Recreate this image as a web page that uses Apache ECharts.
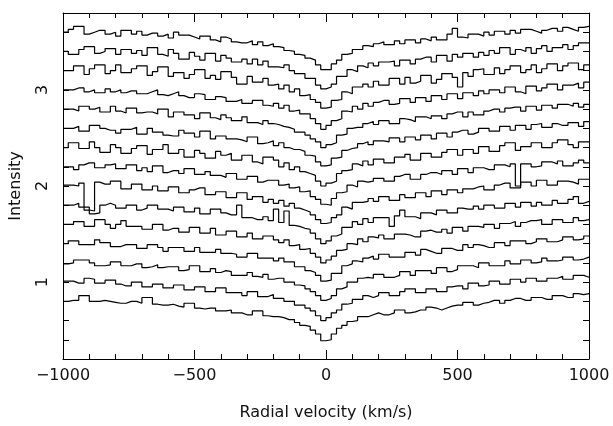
<!DOCTYPE html>
<html>
<head>
<meta charset="utf-8">
<script src="https://cdn.jsdelivr.net/npm/echarts@6/dist/echarts.min.js"></script>
<style>
    html, body { margin: 0; padding: 0; background: #fff; }
    #chart { width: 613px; height: 426px; }
</style>
</head>
<body>
<div id="chart"></div>
<script>
// left edge of each velocity bin (km/s), bins are 20 km/s wide
var binEdges = [
    -1000,-980,-960,-940,-920,-900,-880,-860,-840,-820,
    -800,-780,-760,-740,-720,-700,-680,-660,-640,-620,
    -600,-580,-560,-540,-520,-500,-480,-460,-440,-420,
    -400,-380,-360,-340,-320,-300,-280,-260,-240,-220,
    -200,-180,-160,-140,-120,-100,-80,-60,-40,-20,
    0,20,40,60,80,100,120,140,160,180,
    200,220,240,260,280,300,320,340,360,380,
    400,420,440,460,480,500,520,540,560,580,
    600,620,640,660,680,700,720,740,760,780,
    800,820,840,860,880,900,920,940,960,980
];
var binEnd = 1000;

// normalised intensity in percent, bottom spectrum first
var spec00 = [
    100,101,101,106,106,100,100,101,100,99,
    98,98,100,100,98,104,104,97,96,96,
    97,95,94,98,98,93,92,93,93,90,
    90,91,88,88,86,86,90,90,85,84,
    84,83,81,81,78,75,74,70,66,59,
    60,66,72,75,79,80,84,84,86,88,
    86,86,88,91,91,88,89,91,91,94,
    93,91,93,95,96,96,99,99,96,98,
    99,101,101,98,101,103,103,101,101,104,
    104,102,102,106,106,104,104,108,107,108
];
var spec01 = [
    101,101,99,99,104,103,99,99,102,102,
    98,96,96,100,100,95,95,98,98,94,
    94,97,97,92,92,95,95,90,90,94,
    94,89,89,89,86,90,90,85,85,87,
    83,83,80,80,76,76,73,70,65,60,
    63,68,71,77,78,82,82,86,84,86,
    89,89,86,86,90,93,93,89,89,93,
    93,90,90,95,96,96,93,99,99,96,
    97,101,101,98,98,103,103,100,104,104,
    101,101,104,104,106,103,103,107,107,105
];
var spec02 = [
    99,100,103,103,103,100,97,97,98,101,
    101,97,97,99,99,95,96,98,95,96,
    96,96,92,93,97,97,91,91,94,90,
    92,91,87,87,87,90,86,85,88,83,
    84,84,80,80,77,76,73,70,66,61,
    63,66,73,75,80,80,84,85,84,88,
    88,85,85,87,91,91,87,92,92,92,
    89,95,95,91,93,97,97,97,95,100,
    100,97,97,97,102,99,99,103,103,100,
    101,105,102,102,103,106,106,103,104,106
];
var spec03 = [
    100,103,103,99,99,99,104,101,101,97,
    97,99,99,99,95,95,99,99,96,92,
    96,96,96,92,92,96,91,91,91,94,
    90,90,89,86,86,90,90,85,85,85,
    82,85,81,81,76,76,72,70,67,61,
    62,69,69,77,79,82,81,85,87,84,
    89,89,86,86,86,91,91,88,94,92,
    90,90,95,95,93,93,99,96,99,98,
    96,96,101,101,98,103,103,103,100,102,
    105,105,102,102,104,107,107,104,105,108
];
var spec04 = [
    100,100,103,103,98,98,105,105,100,96,
    100,104,98,98,98,95,95,100,100,94,
    96,96,92,92,97,97,91,91,96,89,
    89,93,93,87,87,91,85,85,88,88,
    84,81,84,78,79,74,75,70,66,60,
    63,67,73,74,80,79,85,82,87,86,
    89,85,85,90,90,89,87,87,93,94,
    92,92,95,91,97,97,93,98,98,97,
    100,100,96,101,101,103,98,102,104,104,
    105,100,100,105,105,102,102,107,104,105
];
var spec05 = [
    100,100,102,98,98,91,92,100,102,100,
    97,97,100,100,95,97,100,100,96,96,
    94,98,98,93,93,97,91,91,96,96,
    92,90,90,100,87,87,85,85,88,84,
    96,82,94,79,78,76,75,71,65,60,
    63,68,70,77,77,83,80,86,82,87,
    87,87,78,89,95,88,88,86,92,92,
    90,95,95,92,92,97,96,96,99,96,
    100,100,97,97,102,102,98,103,103,99,
    103,100,100,105,102,102,106,109,102,104
];
var spec06 = [
    101,101,100,103,75,74,104,102,102,105,
    105,97,97,102,102,96,96,100,95,95,
    99,99,93,93,96,98,98,91,91,94,
    94,88,88,93,93,86,89,89,83,86,
    82,85,79,82,77,75,73,70,65,61,
    62,67,70,78,76,83,83,84,87,84,
    89,89,85,85,91,88,88,93,93,89,
    95,95,91,96,96,93,97,97,99,100,
    96,96,101,103,103,98,98,104,104,100,
    106,106,101,101,105,105,104,102,107,107
];
var spec07 = [
    100,100,97,102,104,104,99,99,102,103,
    98,98,102,102,96,99,95,101,101,94,
    96,96,93,98,98,92,92,95,91,91,
    89,93,93,87,87,90,90,84,86,86,
    86,81,82,78,79,74,75,69,66,61,
    60,67,73,74,81,79,85,84,85,88,
    88,85,85,90,92,92,87,87,92,94,
    94,92,96,96,92,98,98,94,99,99,
    97,97,102,102,100,103,80,103,103,100,
    101,105,105,103,106,101,101,104,107,104
];
var spec08 = [
    100,105,105,99,99,106,100,95,95,103,
    100,94,94,99,102,102,93,98,98,103,
    94,94,98,90,90,97,94,89,89,96,
    92,94,87,87,92,92,85,83,90,90,
    87,80,84,77,80,75,73,71,65,60,
    63,65,73,76,77,83,81,86,82,88,
    88,84,84,90,90,93,87,87,94,94,
    90,90,95,98,98,92,98,98,94,101,
    101,96,96,102,105,105,97,101,101,105,
    105,100,100,105,108,108,103,100,106,106
];
var spec09 = [
    100,100,102,97,97,103,103,100,98,98,
    95,99,99,101,94,94,100,96,96,93,
    92,92,98,95,95,91,97,97,89,92,
    92,89,89,88,86,91,91,84,85,87,
    82,85,80,78,78,76,72,71,65,61,
    62,69,70,77,79,80,84,86,83,87,
    87,86,90,90,86,91,91,88,93,93,
    89,95,95,91,96,98,98,94,96,100,
    100,97,97,102,102,98,103,103,99,104,
    105,101,101,105,103,103,106,106,102,107
];
var spec10 = [
    100,100,98,103,103,100,102,97,97,103,
    98,96,101,101,96,97,97,95,100,100,
    92,97,97,94,94,90,96,96,91,89,
    94,91,88,88,92,86,86,84,88,85,
    84,82,81,79,76,76,73,69,66,60,
    63,65,73,74,80,81,81,85,87,84,
    88,88,85,85,90,89,87,92,92,90,
    93,93,90,95,97,97,92,97,94,94,
    98,100,100,97,101,102,102,98,103,103,
    99,104,104,101,105,105,103,106,102,105
];
var spec11 = [
    100,100,102,102,98,100,97,97,101,98,
    100,97,99,99,96,96,98,100,95,94,
    96,98,94,92,92,96,95,90,90,93,
    92,88,88,90,86,86,89,89,84,83,
    86,81,84,78,79,75,75,70,65,59,
    63,68,70,78,77,83,80,86,83,87,
    89,89,85,86,91,91,87,92,92,88,
    94,94,90,96,96,91,97,97,94,99,
    96,100,100,97,103,103,98,96,104,104,
    99,102,106,106,100,105,105,107,102,108
];
var spec12 = [
    100,100,105,105,96,102,106,106,97,100,
    106,98,98,102,105,105,95,99,104,104,
    94,98,98,92,96,101,101,92,95,91,
    99,99,93,86,86,94,88,88,92,85,
    86,81,85,78,81,74,75,70,67,61,
    62,69,70,78,76,83,83,86,83,89,
    85,85,92,92,86,93,87,89,95,95,
    87,91,97,97,93,83,98,94,101,102,
    96,96,103,97,101,105,105,98,101,106,
    98,102,107,107,100,105,108,108,101,106
];
var spec13 = [
    100,97,97,102,105,105,98,100,103,103,
    97,102,102,98,101,96,104,104,97,95,
    102,98,92,92,99,95,91,98,98,90,
    96,93,89,89,92,87,92,86,90,84,
    84,83,86,80,77,77,72,72,65,61,
    63,66,74,74,81,79,85,83,88,85,
    89,89,90,85,91,91,87,92,94,94,
    89,96,96,90,97,94,98,98,94,99,
    96,101,98,104,104,97,102,100,104,98,
    103,106,100,104,104,107,102,106,109,109
];
var spec14 = [
    100,103,106,106,98,100,102,102,98,100,
    96,102,102,98,101,97,99,99,96,98,
    94,100,97,97,95,93,96,96,92,90,
    95,93,90,89,89,91,87,90,86,88,
    85,84,81,80,77,76,73,71,66,61,
    61,67,71,77,78,82,82,86,85,88,
    90,87,87,91,88,92,92,89,93,91,
    95,92,92,98,104,95,94,98,98,96,
    100,97,101,101,98,102,99,103,103,101,
    99,102,104,104,101,105,103,101,105,106
];

// vertical shift of each spectrum
var offsets = [-0.2, 0, 0.2, 0.4, 0.6, 0.8, 1.0, 1.2, 1.4, 1.6, 1.8, 2.0, 2.2, 2.4, 2.6];

var spectra = [spec00, spec01, spec02, spec03, spec04, spec05, spec06, spec07,
               spec08, spec09, spec10, spec11, spec12, spec13, spec14];

var series = [];
spectra.forEach(function (s, i) {
    var pts = [];
    for (var k = 0; k < s.length; k++) {
        pts.push([binEdges[k], s[k] / 100 + offsets[i]]);
    }
    pts.push([binEnd, s[s.length - 1] / 100 + offsets[i]]);
    series.push({
        type: 'line',
        step: 'end',
        data: pts,
        symbol: 'none',
        showSymbol: false,
        silent: true,
        lineStyle: { color: '#000', width: 1.2 }
    });
});

var font = 'DejaVu Sans';
var axisLine = { show: true, onZero: false, lineStyle: { color: '#000', width: 1 } };

function xAxisBase(pos, showLabel) {
    return {
        type: 'value',
        position: pos,
        min: -1000,
        max: 1000,
        interval: 500,
        axisLine: axisLine,
        axisTick: { show: true, inside: true, length: 9, lineStyle: { color: '#000' } },
        minorTick: { show: true, splitNumber: 5, length: 5, lineStyle: { color: '#000' } },
        splitLine: { show: false },
        axisLabel: {
            show: showLabel,
            margin: 9,
            color: '#111',
            fontFamily: font,
            fontSize: 16,
            showMinLabel: true,
            showMaxLabel: true,
            formatter: function (v) { return v < 0 ? '\u2212' + (-v) : String(v); }
        }
    };
}

function yAxisBase(pos, showLabel) {
    return {
        type: 'value',
        position: pos,
        min: 0.2,
        max: 3.8,
        interval: 0.2,
        axisLine: axisLine,
        axisTick: { show: true, inside: true, length: 6, lineStyle: { color: '#000' } },
        splitLine: { show: false },
        axisLabel: {
            show: showLabel,
            rotate: 90,
            margin: 12,
            color: '#111',
            fontFamily: font,
            fontSize: 16,
            formatter: function (v) {
                var r = Math.round(v);
                return Math.abs(v - r) < 1e-6 ? String(r) : '';
            }
        }
    };
}

var xBottom = xAxisBase('bottom', true);
xBottom.name = 'Radial velocity (km/s)';
xBottom.nameLocation = 'middle';
xBottom.nameGap = 46;
xBottom.nameTextStyle = { color: '#111', fontFamily: font, fontSize: 16 };

var yLeft = yAxisBase('left', true);
yLeft.name = 'Intensity';
yLeft.nameLocation = 'middle';
yLeft.nameRotate = 90;
yLeft.nameGap = 39;
yLeft.nameTextStyle = { color: '#111', fontFamily: font, fontSize: 16 };

var option = {
    animation: false,
    backgroundColor: '#fff',
    grid: { left: 63, right: 24, top: 13, bottom: 63 },
    xAxis: [xBottom, xAxisBase('top', false)],
    yAxis: [yLeft, yAxisBase('right', false)],
    series: series
};

var chart = echarts.init(document.getElementById('chart'));
chart.setOption(option);
</script>
</body>
</html>
